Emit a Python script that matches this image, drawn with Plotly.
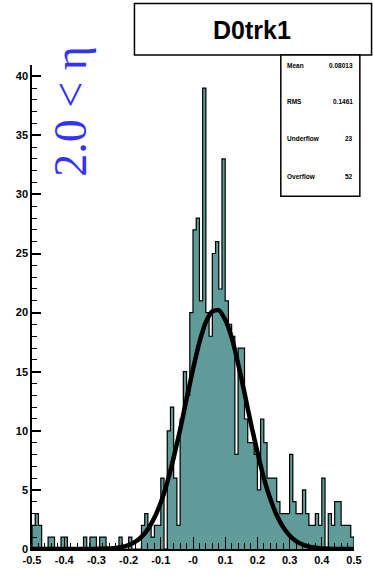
import plotly.graph_objects as go

# ---------------- data ----------------
bin_low = -0.5
bin_width = 0.01
counts = [2, 3, 2, 0, 0, 1, 1, 0, 0, 1,
          1, 0, 0, 0, 0, 0, 1, 0, 1, 1,
          0, 1, 1, 0, 0, 0, 0, 1, 0, 0,
          1, 0, 0, 0, 2, 3, 2, 1, 2, 2,
          6, 0, 10, 12, 6, 2, 11, 15, 13, 20,
          27, 28, 21, 39, 20, 18, 25, 26, 22, 33,
          21, 19, 18, 8, 17, 17, 11, 9, 9, 8,
          5, 11, 9, 6, 6, 6, 4, 3, 3, 3,
          8, 4, 3, 3, 5, 3, 2, 2, 3, 2,
          6, 0, 3, 2, 4, 4, 2, 2, 2, 1]

fit_x = [-0.50, -0.48, -0.46, -0.44, -0.42, -0.40, -0.38, -0.36, -0.34, -0.32,
         -0.30, -0.28, -0.26, -0.24, -0.22, -0.20, -0.18, -0.16, -0.14, -0.12,
         -0.10, -0.08, -0.06, -0.04, -0.02, 0.00, 0.02, 0.04, 0.06, 0.08,
         0.10, 0.12, 0.14, 0.16, 0.18, 0.20, 0.22, 0.24, 0.26, 0.28,
         0.30, 0.32, 0.34, 0.36, 0.38, 0.40, 0.42, 0.44, 0.46, 0.48, 0.50]
fit_y = [0, 0, 0, 0, 0, 0, 0, 0, 0, 0,
         0.01, 0.02, 0.05, 0.09, 0.18, 0.34, 0.60, 1.03, 1.68, 2.64,
         3.93, 5.64, 7.73, 10.1, 12.7, 15.2, 17.5, 19.2, 20.1, 20.2,
         19.4, 17.9, 15.7, 13.2, 10.6, 8.2, 6.0, 4.25, 2.86, 1.85,
         1.14, 0.67, 0.38, 0.20, 0.10, 0.05, 0.02, 0, 0, 0, 0]

x_tick_vals = [-0.5, -0.4, -0.3, -0.2, -0.1, 0.0, 0.1, 0.2, 0.3, 0.4, 0.5]
x_tick_text = ["-0.5", "-0.4", "-0.3", "-0.2", "-0.1", "-0", "0.1", "0.2", "0.3", "0.4", "0.5"]
y_tick_vals = [0, 5, 10, 15, 20, 25, 30, 35, 40]

title_text = "D0trk1"
stats_names = ["Mean", "RMS", "Underflow", "Overflow"]
stats_values = ["0.08013", "0.1461", "23", "52"]
eta_label = "2.0 < η"

# ---------------- geometry ----------------
W, H = 373, 577
ML, MR, MT, MB = 32, 11, 65, 25
PW = W - ML - MR
PH = H - MT - MB

def px(x):
    return (x - ML) / PW

def py(y):
    return (H - MB - y) / PH

fill_col = "#5f9b99"

centers = [bin_low + bin_width * (i + 0.5) for i in range(len(counts))]
edges = [bin_low + bin_width * i for i in range(len(counts) + 1)]
out_x = [edges[0]] + edges[:-1] + [edges[-1], edges[-1]]
out_y = [0] + counts + [counts[-1], 0]

fig = go.Figure()
fig.add_trace(go.Bar(x=centers, y=counts, width=bin_width,
                     marker=dict(color=fill_col, line=dict(width=0)),
                     hoverinfo="skip", showlegend=False))
fig.add_trace(go.Scatter(x=out_x, y=out_y, mode="lines",
                         line=dict(color="black", width=1.2, shape="hv"),
                         hoverinfo="skip", showlegend=False))
fig.add_trace(go.Scatter(x=fit_x, y=fit_y, mode="lines",
                         line=dict(color="black", width=4.5, shape="spline", smoothing=0.6),
                         hoverinfo="skip", showlegend=False))

tickfont = dict(family="Liberation Sans", size=11, color="black", weight="bold")

fig.update_layout(
    width=W, height=H,
    margin=dict(l=ML, r=MR, t=MT, b=MB, pad=0),
    paper_bgcolor="white", plot_bgcolor="white",
    bargap=0, showlegend=False,
    xaxis=dict(range=[-0.5, 0.5], tickmode="array", tickvals=x_tick_vals, ticktext=x_tick_text,
               ticks="inside", ticklen=12, tickwidth=1, tickcolor="black",
               minor=dict(dtick=0.02, tick0=0, ticks="inside", ticklen=6, tickcolor="black", tickwidth=1),
               showline=True, linecolor="black", linewidth=1.5, showgrid=False, zeroline=False,
               tickfont=tickfont, fixedrange=True),
    yaxis=dict(range=[0, 40.95], tickmode="array", tickvals=y_tick_vals,
               ticks="inside", ticklen=9, tickwidth=1.5, tickcolor="black",
               minor=dict(dtick=1, tick0=0, ticks="inside", ticklen=5, tickcolor="black", tickwidth=1),
               showline=True, linecolor="black", linewidth=1.5, showgrid=False, zeroline=False,
               tickfont=tickfont, fixedrange=True),
)

# title box
fig.add_shape(type="rect", xref="paper", yref="paper",
              x0=px(137), x1=px(380), y0=py(55), y1=py(3),
              line=dict(color="black", width=1.5), fillcolor="white", layer="above")
fig.add_annotation(xref="paper", yref="paper", x=px(257), y=py(30), text=title_text,
                   showarrow=False, xanchor="center", yanchor="middle",
                   font=dict(family="Liberation Sans", size=25, color="black", weight="bold"))

# stats box
fig.add_shape(type="rect", xref="paper", yref="paper",
              x0=px(287), x1=px(368), y0=py(197), y1=py(55),
              line=dict(color="black", width=1.5), fillcolor="white", layer="above")
row_y = [65, 102, 139, 177]
for name, val, yy in zip(stats_names, stats_values, row_y):
    fig.add_annotation(xref="paper", yref="paper", x=px(291), y=py(yy), text=name,
                       showarrow=False, xanchor="left", yanchor="middle",
                       font=dict(family="Liberation Sans", size=6.5, color="black", weight="bold"))
    fig.add_annotation(xref="paper", yref="paper", x=px(363), y=py(yy), text=val,
                       showarrow=False, xanchor="right", yanchor="middle",
                       font=dict(family="Liberation Sans", size=6.5, color="black", weight="bold"))

# rotated blue label
fig.add_annotation(xref="paper", yref="paper", x=px(72), y=py(112), text=eta_label,
                   showarrow=False, xanchor="center", yanchor="middle", textangle=-90,
                   font=dict(family="Liberation Serif", size=46, color="#3333ff"))

fig.write_html("out.html", config=dict(displayModeBar=False),
               post_script="document.body.style.margin='0px';document.body.style.overflow='hidden';")
